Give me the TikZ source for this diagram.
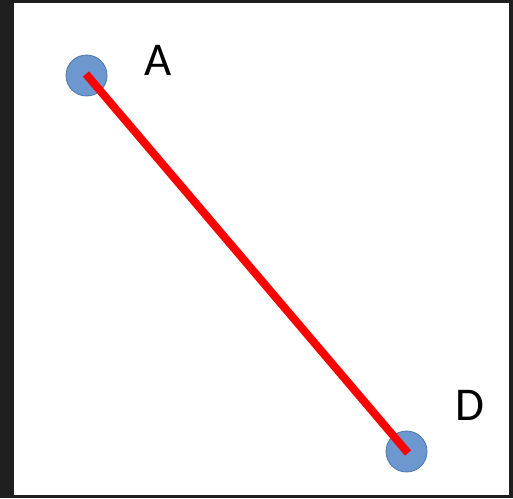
\documentclass[tikz,border=0pt]{standalone}
\usepackage{fontspec}
\setmainfont{Carlito}
\definecolor{frame}{HTML}{1F1F1F}
\definecolor{dotfill}{HTML}{6C97CF}
\definecolor{dotedge}{HTML}{4A76AE}
\definecolor{linered}{HTML}{FF0000}
\tikzset{
  dot/.style={circle, fill=dotfill, draw=dotedge, line width=0.8pt, minimum size=41pt, inner sep=0pt},
  lbl/.style={font=\fontsize{47}{47}\selectfont, inner sep=0pt, text=black},
  seg/.style={draw=linered, line width=8pt}
}
\begin{document}
\begin{tikzpicture}[x=1pt,y=-1pt]
\useasboundingbox (0,0) rectangle (513,498);
\fill[frame] (0,0) rectangle (513,498);
\fill[white] (14,3) rectangle (509,495);
\node[dot] (A) at (86.5,75.5) {};
\node[dot] (D) at (406.5,451.5) {};
\coordinate (a) at (86,74);
\coordinate (d) at (408,453);
\draw[seg] (a) -- (d);
\node[lbl] (la) at (158,60) {A};
\node[lbl] (ld) at (469.5,405) {D};
\end{tikzpicture}
\end{document}
